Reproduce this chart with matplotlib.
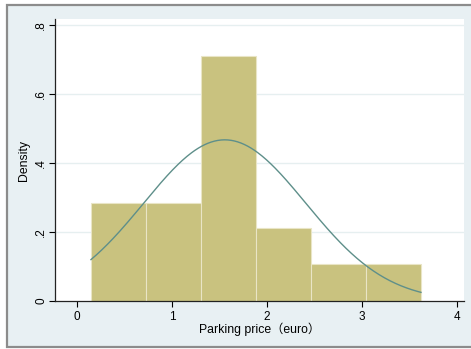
import numpy as np
import matplotlib.pyplot as plt
from matplotlib.patches import Rectangle

plt.rcParams['font.family'] = ['Liberation Sans', 'Noto Sans CJK SC', 'DejaVu Sans']

# Histograma de precios de estacionamiento (densidad)
bin_edges = [0.147, 0.726, 1.305, 1.884, 2.463, 3.042, 3.621]
densidades = [0.283, 0.283, 0.709, 0.213, 0.106, 0.106]

# Curva normal ajustada
media = 1.555
desv = 0.854

x_ticks = [0, 1, 2, 3, 4]
y_ticks = [0, 0.2, 0.4, 0.6, 0.8]
y_labels = ["0", ".2", ".4", ".6", ".8"]

fig = plt.figure(figsize=(4.71, 3.49), dpi=100)
fig.patch.set_facecolor('white')

# Marco exterior estilo Stata
marco = Rectangle((7 / 471, 2 / 349), 1.0, 342 / 349, transform=fig.transFigure,
                  facecolor='#e8f0f3', edgecolor='#8c8c8c', linewidth=1.6, zorder=-1)
fig.patches.append(marco)

ax = fig.add_axes([55 / 471, 1 - 301 / 349, 409 / 471, 282 / 349])
ax.set_zorder(2)
ax.set_facecolor('white')

anchos = np.diff(bin_edges)
ax.bar(bin_edges[:-1], densidades, width=anchos, align='edge',
       color='#c9c27f', edgecolor='#e9e5c6', linewidth=0.8, zorder=2)

xs = np.linspace(bin_edges[0], bin_edges[-1], 300)
ys = np.exp(-0.5 * ((xs - media) / desv) ** 2) / (desv * np.sqrt(2 * np.pi))
ax.plot(xs, ys, color='#5e8f8a', linewidth=1.0, zorder=3)

ax.set_xlim(-0.2316, 4.0737)
ax.set_ylim(0, 0.8174)

ax.set_xticks(x_ticks)
ax.set_yticks(y_ticks)
ax.set_yticklabels(y_labels, rotation=90, va='center')
ax.tick_params(axis='both', direction='out', length=4, width=0.8, labelsize=8.5,
               colors='black')
ax.tick_params(axis='y', pad=1.5)
ax.tick_params(axis='x', pad=3)

for y in y_ticks[1:]:
    ax.axhline(y, color='#e6eff0', linewidth=1.0, zorder=1)

for lado in ['top', 'right']:
    ax.spines[lado].set_visible(False)
for lado in ['left', 'bottom']:
    ax.spines[lado].set_color('#222222')
    ax.spines[lado].set_linewidth(0.9)

ax.set_xlabel("Parking price（euro）", fontsize=8.8, labelpad=0)
ax.set_ylabel("Density", fontsize=8.8)
ax.yaxis.set_label_coords(-0.06, 0.5)

fig.savefig("out.png", dpi=100)
